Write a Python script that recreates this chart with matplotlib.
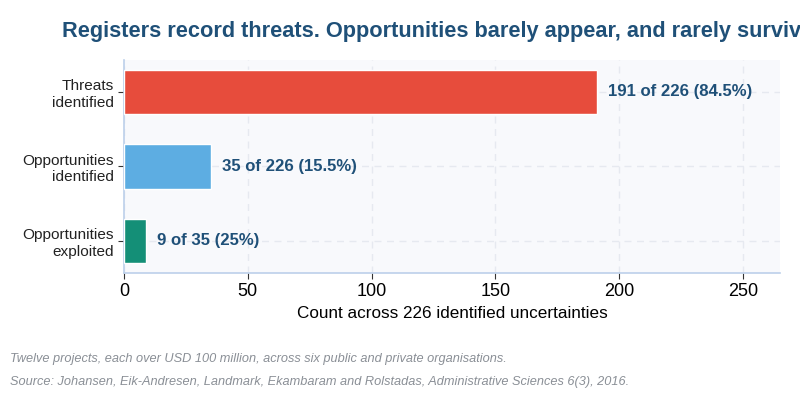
import matplotlib
matplotlib.use("Agg")
import matplotlib.pyplot as plt

categories = ["Threats\nidentified", "Opportunities\nidentified", "Opportunities\nexploited"]
values = [191, 35, 9]
labels = ["191 of 226 (84.5%)", "35 of 226 (15.5%)", "9 of 35 (25%)"]
colors = ["#e74c3c", "#5dade2", "#148f77"]
xticks = [0, 50, 100, 150, 200, 250]

plt.rcParams['font.family'] = ['Liberation Sans', 'DejaVu Sans']

fig = plt.figure(figsize=(8, 3.94), dpi=100)
ax = fig.add_axes([0.155, 0.307, 0.82, 0.541])
ax.set_facecolor("#f8f9fc")

y = list(range(len(categories)))
ax.barh(y, values, height=0.6, color=colors, edgecolor="white", linewidth=1, zorder=3)
ax.set_yticks(y)
ax.set_yticklabels(categories, fontsize=11.1, color="#222222")
ax.invert_yaxis()
ax.set_xlim(0, 265)
ax.set_xticks(xticks)
ax.set_xticklabels([str(t) for t in xticks], fontsize=13)
ax.set_xlabel("Count across 226 identified uncertainties", fontsize=12.3, labelpad=4)

for yi, v, lab in zip(y, values, labels):
    ax.text(v + 4.5, yi, lab, va="center", ha="left", fontsize=12.1,
            fontweight="bold", color="#1f5078", zorder=4)

ax.grid(True, linestyle=(0, (5, 4)), color="#e6e9f0", linewidth=1, zorder=0)
for s in ["top", "right"]:
    ax.spines[s].set_visible(False)
for s in ["left", "bottom"]:
    ax.spines[s].set_color("#bcd0ea")
    ax.spines[s].set_linewidth(1.2)
ax.tick_params(axis="both", length=4, color="#333333")

fig.text(0.0775, 0.92, "Registers record threats. Opportunities barely appear, and rarely survive.",
         fontsize=15.7, fontweight="bold", color="#1f5078", ha="left", va="center")
fig.text(0.012, 0.09, "Twelve projects, each over USD 100 million, across six public and private organisations.",
         fontsize=9.15, style="italic", color="#8a8f96", ha="left", va="center")
fig.text(0.012, 0.03, "Source: Johansen, Eik-Andresen, Landmark, Ekambaram and Rolstadas, Administrative Sciences 6(3), 2016.",
         fontsize=9.15, style="italic", color="#8a8f96", ha="left", va="center")

fig.savefig("out.png", dpi=100)
